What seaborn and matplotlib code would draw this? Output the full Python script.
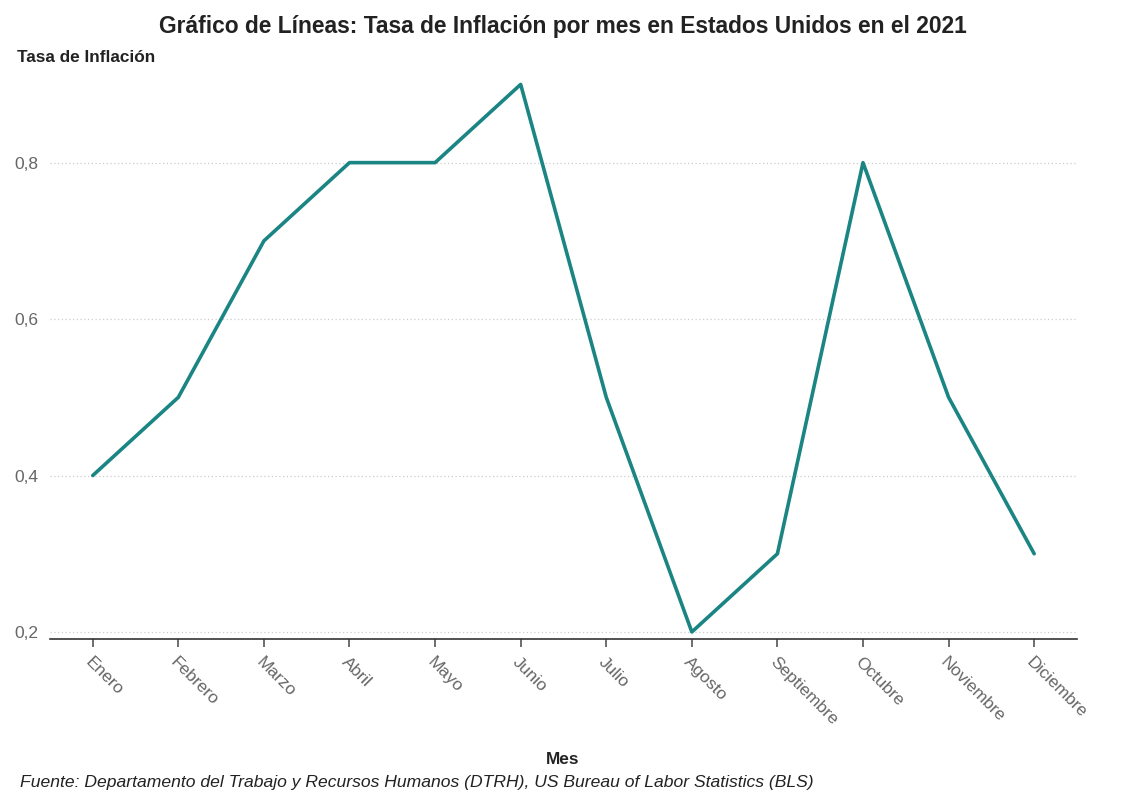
import matplotlib
matplotlib.use("Agg")
import matplotlib.pyplot as plt
import seaborn as sns
import pandas as pd
from matplotlib.ticker import FuncFormatter

meses = ["Enero", "Febrero", "Marzo", "Abril", "Mayo", "Junio", "Julio",
         "Agosto", "Septiembre", "Octubre", "Noviembre", "Diciembre"]
tasa = [0.4, 0.5, 0.7, 0.8, 0.8, 0.9, 0.5, 0.2, 0.3, 0.8, 0.5, 0.3]
yticks = [0.2, 0.4, 0.6, 0.8]

sns.set_theme(style="white")
plt.rcParams['font.family'] = ['Liberation Sans', 'DejaVu Sans']

df = pd.DataFrame({"Mes": meses, "Tasa": tasa})
df["idx"] = range(len(meses))

fig = plt.figure(figsize=(11.25, 8.1), dpi=100)
ax = fig.add_axes([0.0444, 0.2111, 0.9129, 0.704])

sns.lineplot(data=df, x="idx", y="Tasa", ax=ax, color="#1b8583", linewidth=2.6)

ax.set_xlim(-0.5, 11.5)
ax.set_ylim(0.191, 0.92)
ax.set_xticks(df["idx"])
ax.set_xticklabels(meses, rotation=-45, ha="left", va="top",
                   rotation_mode="anchor", fontsize=12.5, color="#666666")
ax.set_yticks(yticks)
ax.yaxis.set_major_formatter(FuncFormatter(lambda v, p: f"{v:.1f}".replace(".", ",")))
ax.tick_params(axis="y", length=0, labelsize=12.5, labelcolor="#666666", pad=8)
ax.tick_params(axis="x", length=6, width=1.2, color="#555555", bottom=True, pad=5)

ax.grid(axis="y", linestyle=(0, (1, 2)), color="#cccccc", linewidth=0.9)
ax.grid(axis="x", visible=False)
for s in ["top", "right", "left"]:
    ax.spines[s].set_visible(False)
ax.spines["bottom"].set_color("#333333")
ax.spines["bottom"].set_linewidth(1.2)

ax.set_xlabel("")
ax.set_ylabel("")

fig.text(0.5, 1 - 27 / 810, "Gráfico de Líneas: Tasa de Inflación por mes en Estados Unidos en el 2021",
         ha="center", va="center", fontsize=16.4, fontweight="bold", color="#222222")
fig.text(17 / 1125, 1 - 57 / 810, "Tasa de Inflación", ha="left", va="center",
         fontsize=12.4, fontweight="bold", color="#222222")
fig.text(0.5, 1 - 759 / 810, "Mes", ha="center", va="center",
         fontsize=12.4, fontweight="bold", color="#222222")
fig.text(20 / 1125, 1 - 782 / 810,
         "Fuente: Departamento del Trabajo y Recursos Humanos (DTRH), US Bureau of Labor Statistics (BLS)",
         ha="left", va="center", fontsize=12.6, fontstyle="italic", color="#222222")

fig.savefig("out.png", dpi=100)
